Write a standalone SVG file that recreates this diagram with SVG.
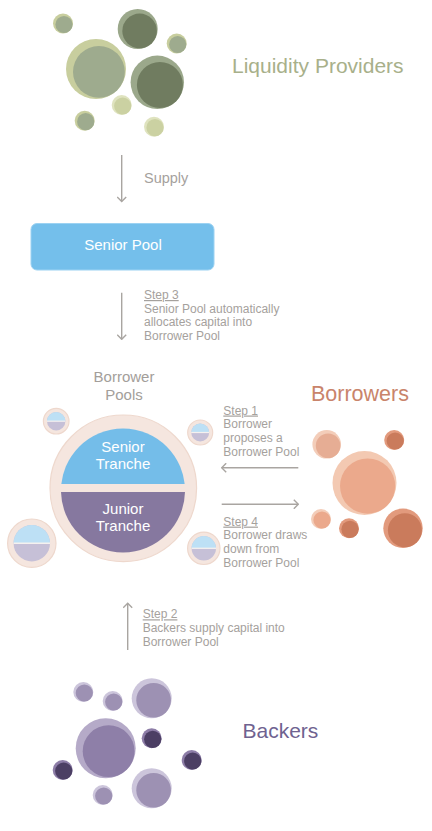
<svg xmlns="http://www.w3.org/2000/svg" width="432" height="831" viewBox="0 0 432 831">
  <style>
    .lbl { font-family: "Liberation Sans", Arial, sans-serif; }
    .step { font-family: "Liberation Sans", Arial, sans-serif; font-size: 12px; fill: #a5a19d; }
    .stepHead { text-decoration: underline; }
    .arrow { stroke: #a9a5a1; stroke-width: 1.4; fill: none; }
    /* bubble palettes: outer disc / inner disc */
    .gPaleO { fill: #c8ce9e; } .gPaleI { fill: #9eab8e; }
    .gDarkO { fill: #9ba88b; } .gDarkI { fill: #707c60; }
    .gLiteO { fill: #dfe3bf; } .gLiteI { fill: #cbd1a2; }
    .bPaleO { fill: #f3cdb9; } .bPaleI { fill: #e6ad94; }
    .bBigO { fill: #f3c9b2; } .bBigI { fill: #eba98c; }
    .bMidO { fill: #e29a7d; } .bMidI { fill: #ca7b5c; }
    .kLiteO { fill: #ccc5db; } .kLiteI { fill: #9d91b3; }
    .kMidO { fill: #b5aac8; } .kMidI { fill: #8e7fa8; }
    .kDarkO { fill: #8d7da7; } .kDarkI { fill: #4c3f64; }
    .ring { fill: #f5e6df; stroke: #eed8cd; stroke-width: 1.2; }
    .seniorFill { fill: #74bde9; }
    .juniorFill { fill: #86789f; }
    .miniTop { fill: #bde0f5; }
    .miniBot { fill: #c6c0d7; }
  </style>
  <defs>
    <marker id="chev" viewBox="0 0 10 10" refX="9" refY="5" markerWidth="10" markerHeight="10" markerUnits="userSpaceOnUse" orient="auto">
      <polyline points="4.5,0.5 9,5 4.5,9.5" fill="none" stroke="#a9a5a1" stroke-width="1.4"/>
    </marker>
    <clipPath id="seniorClip"><rect x="40" y="400" width="170" height="84"/></clipPath>
    <clipPath id="juniorClip"><rect x="40" y="492" width="170" height="80"/></clipPath>
  </defs>

  <rect width="432" height="831" fill="#ffffff"/>

  <!-- Liquidity providers cluster -->
  <g id="liquidity-providers">
    <circle class="gPaleO" cx="63" cy="23.5" r="10"/><circle class="gPaleI" cx="64" cy="24.5" r="8.6"/>
    <circle class="gDarkO" cx="137.7" cy="29" r="20"/><circle class="gDarkI" cx="139.6" cy="30.9" r="17.3"/>
    <circle class="gPaleO" cx="176.7" cy="43.5" r="10"/><circle class="gPaleI" cx="177.7" cy="44.5" r="8.6"/>
    <circle class="gPaleO" cx="96" cy="69" r="30"/><circle class="gPaleI" cx="98.9" cy="71.9" r="25.9"/>
    <circle class="gDarkO" cx="157.3" cy="82.3" r="26.7"/><circle class="gDarkI" cx="159.9" cy="84.9" r="23"/>
    <circle class="gLiteO" cx="121.7" cy="105" r="10"/><circle class="gLiteI" cx="122.7" cy="106" r="8.6"/>
    <circle class="gPaleO" cx="84.7" cy="120.7" r="10"/><circle class="gPaleI" cx="85.7" cy="121.7" r="8.6"/>
    <circle class="gLiteO" cx="154" cy="126.7" r="10"/><circle class="gLiteI" cx="155" cy="127.7" r="8.6"/>
    <text class="lbl" x="232" y="73.3" font-size="21" fill="#a8b08a">Liquidity Providers</text>
  </g>

  <!-- Senior pool -->
  <g id="senior-pool">
    <rect x="31" y="223.5" width="183" height="46.5" rx="6" fill="#74bfeb" stroke="#9cd2f2" stroke-width="1"/>
    <text class="lbl" x="123" y="249.5" font-size="15" fill="#ffffff" text-anchor="middle">Senior Pool</text>
  </g>

  <!-- Borrower pools -->
  <g id="borrower-pools">
    <text class="lbl" font-size="15" fill="#a39e9a" text-anchor="middle"><tspan x="124" y="381.7">Borrower</tspan><tspan x="124" y="400.2">Pools</tspan></text>
    <circle class="ring" cx="123.3" cy="488.3" r="73.3"/>
    <circle class="seniorFill" cx="123" cy="490.5" r="62" clip-path="url(#seniorClip)"/>
    <circle class="juniorFill" cx="123" cy="490.5" r="62" clip-path="url(#juniorClip)"/>
    <text class="lbl" font-size="15" fill="#ffffff" text-anchor="middle"><tspan x="123" y="451.7">Senior</tspan><tspan x="123" y="468.5">Tranche</tspan></text>
    <text class="lbl" font-size="15" fill="#ffffff" text-anchor="middle"><tspan x="123" y="514">Junior</tspan><tspan x="123" y="530.5">Tranche</tspan></text>
  </g>
  <g id="pool-mini-1">
    <circle class="ring" cx="56.2" cy="421.2" r="12.8"/>
    <circle class="miniBot" cx="56.2" cy="421.2" r="9.2"/>
    <path class="miniTop" d="M47,421.2 A9.2,9.2 0 0 1 65.4,421.2 Z"/>
    <line x1="47" y1="421.2" x2="65.4" y2="421.2" stroke="#f5f1ef" stroke-width="1.2"/>
  </g>
  <g id="pool-mini-2">
    <circle class="ring" cx="200.2" cy="432.5" r="12.5"/>
    <circle class="miniBot" cx="200.2" cy="432.5" r="9"/>
    <path class="miniTop" d="M191.2,432.5 A9,9 0 0 1 209.2,432.5 Z"/>
    <line x1="191.2" y1="432.5" x2="209.2" y2="432.5" stroke="#f5f1ef" stroke-width="1.2"/>
  </g>
  <g id="pool-mini-3">
    <circle class="ring" cx="31.8" cy="543.2" r="24.2"/>
    <circle class="miniBot" cx="31.8" cy="543.2" r="18.2"/>
    <path class="miniTop" d="M13.6,543.2 A18.2,18.2 0 0 1 50,543.2 Z"/>
    <line x1="13.6" y1="543.2" x2="50" y2="543.2" stroke="#f5f1ef" stroke-width="1.4"/>
  </g>
  <g id="pool-mini-4">
    <circle class="ring" cx="203.8" cy="548.3" r="16.2"/>
    <circle class="miniBot" cx="203.8" cy="548.3" r="12.2"/>
    <path class="miniTop" d="M191.6,548.3 A12.2,12.2 0 0 1 216,548.3 Z"/>
    <line x1="191.6" y1="548.3" x2="216" y2="548.3" stroke="#f5f1ef" stroke-width="1.3"/>
  </g>

  <!-- Borrowers cluster -->
  <g id="borrowers">
    <circle class="bPaleO" cx="326.7" cy="444.3" r="14.3"/><circle class="bPaleI" cx="328.1" cy="445.7" r="12.3"/>
    <circle class="bMidO" cx="394.2" cy="440" r="10"/><circle class="bMidI" cx="395.2" cy="441" r="8.6"/>
    <circle class="bBigO" cx="364.5" cy="483" r="32"/><circle class="bBigI" cx="367.6" cy="486.1" r="27.6"/>
    <circle class="bPaleO" cx="321" cy="519" r="10"/><circle class="bBigI" cx="322" cy="520" r="8.6"/>
    <circle class="bMidO" cx="349" cy="528.3" r="10"/><circle class="bMidI" cx="350" cy="529.3" r="8.6"/>
    <circle class="bMidO" cx="403" cy="528.3" r="19.7"/><circle class="bMidI" cx="404.9" cy="530.2" r="17"/>
    <text class="lbl" x="311" y="400.7" font-size="21.5" fill="#c9846b">Borrowers</text>
  </g>

  <!-- Backers cluster -->
  <g id="backers">
    <circle class="kLiteO" cx="83.3" cy="692" r="10"/><circle class="kLiteI" cx="84.3" cy="693" r="8.6"/>
    <circle class="kLiteO" cx="112.7" cy="701" r="10"/><circle class="kLiteI" cx="113.7" cy="702" r="8.6"/>
    <circle class="kLiteO" cx="151.7" cy="698.3" r="20"/><circle class="kLiteI" cx="153.6" cy="700.2" r="17.3"/>
    <circle class="kMidO" cx="105.7" cy="748.3" r="30"/><circle class="kMidI" cx="108.6" cy="751.2" r="25.9"/>
    <circle class="kDarkO" cx="151.7" cy="738.3" r="10"/><circle class="kDarkI" cx="152.7" cy="739.3" r="8.6"/>
    <circle class="kDarkO" cx="191.7" cy="760" r="10"/><circle class="kDarkI" cx="192.7" cy="761" r="8.6"/>
    <circle class="kDarkO" cx="62.7" cy="770" r="10"/><circle class="kDarkI" cx="63.7" cy="771" r="8.6"/>
    <circle class="kLiteO" cx="102.7" cy="795" r="10"/><circle class="kLiteI" cx="103.7" cy="796" r="8.6"/>
    <circle class="kLiteO" cx="151.7" cy="788.3" r="20"/><circle class="kLiteI" cx="153.6" cy="790.2" r="17.3"/>
    <text class="lbl" x="242.5" y="737.7" font-size="21" fill="#6f6290">Backers</text>
  </g>

  <!-- Flow arrows and their captions -->
  <g id="connectors">
    <line class="arrow" x1="121.7" y1="155" x2="121.7" y2="201.5" marker-end="url(#chev)"/>
    <line class="arrow" x1="121.7" y1="292.7" x2="121.7" y2="339.3" marker-end="url(#chev)"/>
    <line class="arrow" x1="298.3" y1="467.7" x2="221.7" y2="467.7" marker-end="url(#chev)"/>
    <line class="arrow" x1="221.7" y1="504.3" x2="298.3" y2="504.3" marker-end="url(#chev)"/>
    <line class="arrow" x1="127.7" y1="650" x2="127.7" y2="603.3" marker-end="url(#chev)"/>

    <text class="lbl" x="144" y="182.5" font-size="14.5" fill="#a5a19d">Supply</text>

    <text class="step"><tspan class="stepHead" x="144" y="299">Step 3</tspan><tspan x="144" y="312.7">Senior Pool automatically</tspan><tspan x="144" y="326.4">allocates capital into</tspan><tspan x="144" y="340.1">Borrower Pool</tspan></text>

    <text class="step"><tspan class="stepHead" x="223.3" y="414.5">Step 1</tspan><tspan x="223.3" y="428.2">Borrower</tspan><tspan x="223.3" y="441.9">proposes a</tspan><tspan x="223.3" y="455.6">Borrower Pool</tspan></text>

    <text class="step"><tspan class="stepHead" x="223.3" y="525.6">Step 4</tspan><tspan x="223.3" y="539.3">Borrower draws</tspan><tspan x="223.3" y="553">down from</tspan><tspan x="223.3" y="566.7">Borrower Pool</tspan></text>

    <text class="step"><tspan class="stepHead" x="142.7" y="618.3">Step 2</tspan><tspan x="142.7" y="632.2">Backers supply capital into</tspan><tspan x="142.7" y="646">Borrower Pool</tspan></text>
  </g>
</svg>
